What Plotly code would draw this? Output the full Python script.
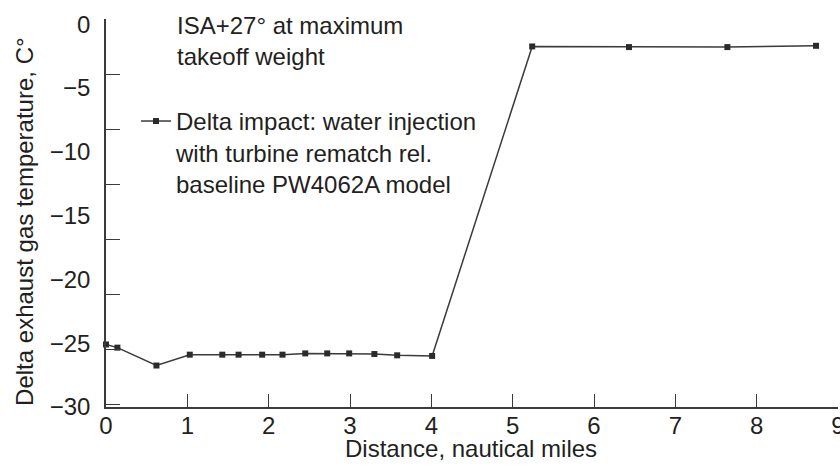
import plotly.graph_objects as go

distance_nm = [0, 0.14, 0.62, 1.03, 1.43, 1.63, 1.92, 2.17, 2.45, 2.72, 2.99,
               3.30, 3.58, 4.01, 5.24, 6.43, 7.64, 8.73]
delta_egt = [-25.1, -25.35, -26.75, -25.9, -25.9, -25.9, -25.9, -25.9, -25.8,
             -25.8, -25.8, -25.85, -25.95, -26.0, -1.75, -1.8, -1.8, -1.7]

x_ticks = list(range(0, 10))
y_ticks = [0, -5, -10, -15, -20, -25, -30]

series_name = "Delta impact: water injection<br>with turbine rematch rel.<br>baseline PW4062A model"
note_text = "ISA+27° at maximum<br>takeoff weight"
x_title = "Distance, nautical miles"
y_title = "Delta exhaust gas temperature, C°"

FONT = "Liberation Sans, Arial, sans-serif"
TXT = "#231f20"
LINE = "#3a3a3a"
FS = 24

fig = go.Figure()
fig.add_trace(go.Scatter(
    x=distance_nm, y=delta_egt, mode="lines+markers", name=series_name,
    line=dict(color=LINE, width=1.5),
    marker=dict(symbol="square", size=6, color="#2b2b2b"),
    cliponaxis=False,
))
# helper trace so the tick-mark-only overlay axis is drawn
fig.add_trace(go.Scatter(x=[0], y=[0], yaxis="y2", mode="none",
                         showlegend=False, hoverinfo="skip"))

fig.update_layout(
    width=840, height=465,
    margin=dict(l=106, r=2, t=19, b=58),
    paper_bgcolor="white", plot_bgcolor="white",
    font=dict(family=FONT, size=FS, color=TXT),
    showlegend=True,
    legend=dict(x=0.041, y=0.794, xanchor="left", yanchor="top",
                bgcolor="rgba(0,0,0,0)", valign="top", itemwidth=30,
                font=dict(family=FONT, size=FS, color=TXT)),
    xaxis=dict(range=[0, 9], tickvals=x_ticks, ticks="inside", ticklen=13,
               tickcolor=LINE, tickwidth=1.2, showline=True, linecolor=LINE,
               linewidth=1.5, showgrid=False, zeroline=False, automargin=False,
               ticklabelstandoff=-4, ticklabeloverflow="allow",
               tickfont=dict(size=FS)),
    yaxis=dict(range=[-30, 0.4], tickvals=y_ticks, ticks="", showline=True,
               linecolor=LINE, linewidth=1.5, showgrid=False, zeroline=False,
               ticklabelstandoff=9, automargin=False, tickfont=dict(size=FS)),
    yaxis2=dict(overlaying="y", side="left", range=[-35.25, 0.03], dtick=5,
                ticks="inside", ticklen=14, tickcolor=LINE, tickwidth=1.2,
                showticklabels=False, showline=False, showgrid=False,
                zeroline=False, automargin=False),
    annotations=[
        dict(text=note_text, xref="paper", yref="paper",
             x=0.094, y=1.024, xanchor="left", yanchor="top",
             align="left", showarrow=False,
             font=dict(family=FONT, size=FS, color=TXT)),
        dict(text=x_title, xref="paper", yref="paper",
             x=0.4986, y=-0.108, xanchor="center", yanchor="middle",
             showarrow=False, font=dict(family=FONT, size=FS, color=TXT)),
        dict(text=y_title, xref="paper", yref="paper", textangle=-90,
             x=-0.1107, y=0.477, xanchor="center", yanchor="middle",
             showarrow=False, font=dict(family=FONT, size=FS, color=TXT)),
    ],
)

fig.write_html("out.html",
               config={"displayModeBar": False},
               post_script="document.body.style.margin='0px';document.body.style.overflow='hidden';")
